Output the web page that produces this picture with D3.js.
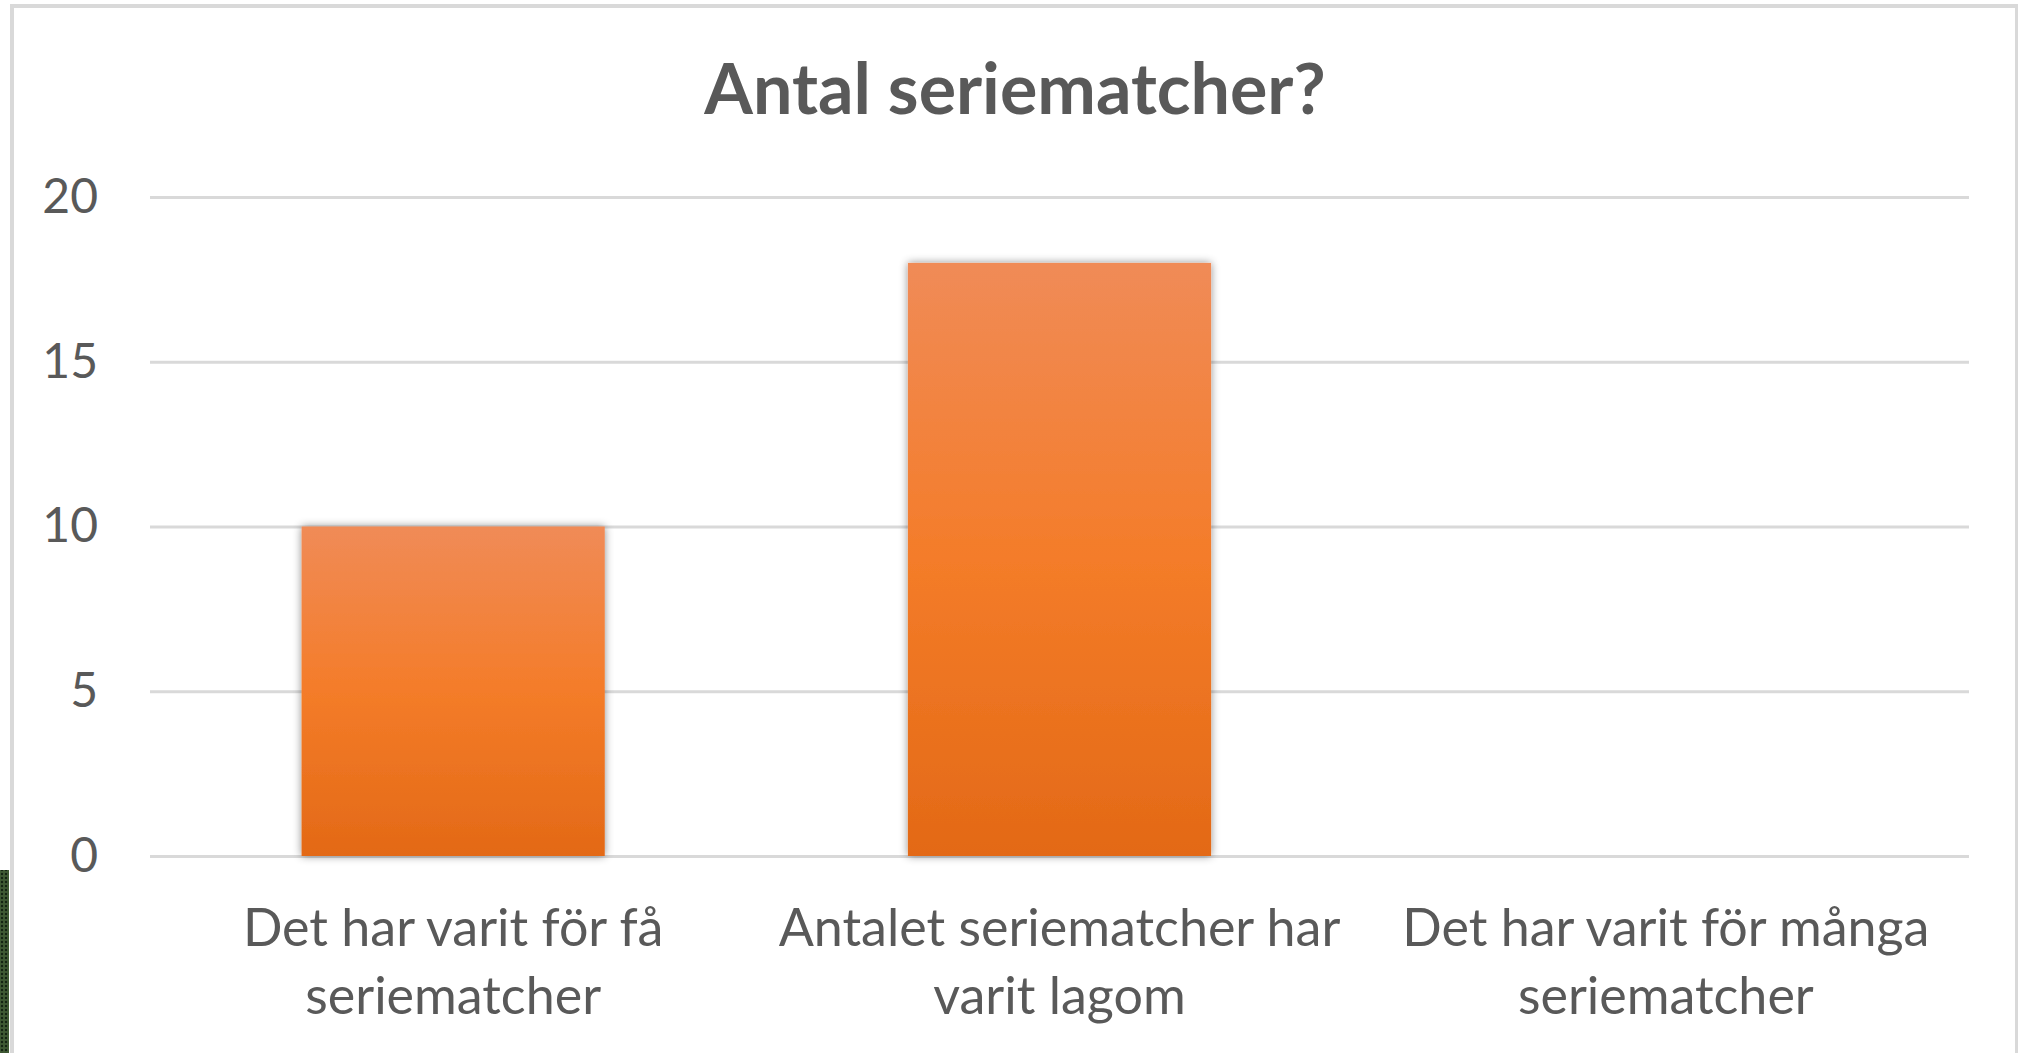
<!DOCTYPE html>
<html>
<head>
<meta charset="utf-8">
<script src="https://cdn.jsdelivr.net/npm/d3@7"></script>
<style>
    body { margin: 0; background: #fff; }
    svg { display: block; }
</style>
</head>
<body>
<div id="container"></div>
<script>
// data
const categories = [
    ['Det har varit för få', 'seriematcher'],
    ['Antalet seriematcher har', 'varit lagom'],
    ['Det har varit för många', 'seriematcher']
];
const values = [10, 18, 0];
const yTicks = [0, 5, 10, 15, 20];
const title = 'Antal seriematcher?';

const width = 2018;
const height = 1053;
const margin = {left: 150, right: 49, top: 197, bottom: 197};
const innerWidth = width - margin.left - margin.right;
const innerHeight = 856 - margin.top;
const textColor = '#595959';
const font = 'Lato, "Open Sans", sans-serif';

const svg = d3.select('#container')
    .append('svg')
    .attr('width', width)
    .attr('height', height);

const defs = svg.append('defs');
// bar gradient
const grad = defs.append('linearGradient')
    .attr('id', 'barGrad')
    .attr('x1', 0).attr('y1', 0).attr('x2', 0).attr('y2', 1);
grad.append('stop').attr('offset', '0%').attr('stop-color', '#f08b57');
grad.append('stop').attr('offset', '50%').attr('stop-color', '#f47c29');
grad.append('stop').attr('offset', '100%').attr('stop-color', '#e36916');
// soft shadow around bars
defs.append('filter')
    .attr('id', 'shadow')
    .attr('x', '-10%').attr('y', '-10%').attr('width', '120%').attr('height', '120%')
    .append('feDropShadow')
    .attr('dx', 0).attr('dy', 0)
    .attr('stdDeviation', 4)
    .attr('flood-color', '#000')
    .attr('flood-opacity', 0.45);
// dotted green strip bottom-left
const pat = defs.append('pattern')
    .attr('id', 'dots')
    .attr('width', 4).attr('height', 4)
    .attr('patternUnits', 'userSpaceOnUse');
pat.append('rect').attr('width', 4).attr('height', 4).attr('fill', '#3f5a34');
pat.append('circle').attr('cx', 2).attr('cy', 2).attr('r', 1.2).attr('fill', '#142313');

svg.append('rect')
    .attr('x', 0).attr('y', 870)
    .attr('width', 9).attr('height', height - 870)
    .attr('fill', 'url(#dots)');

// chart border (left, top, right edges only)
svg.append('path')
    .attr('d', `M12,${height} V6 H${width - 1} V${height}`)
    .attr('fill', 'none')
    .attr('stroke', '#d9d9d9')
    .attr('stroke-width', 4);

// title
svg.append('text')
    .attr('x', 1015)
    .attr('y', 114)
    .attr('text-anchor', 'middle')
    .attr('font-family', font)
    .attr('font-weight', 'bold')
    .attr('font-size', 70)
    .attr('fill', textColor)
    .text(title);

const g = svg.append('g')
    .attr('transform', `translate(${margin.left},${margin.top})`);

// scales
const xScale = d3.scaleBand()
    .domain(d3.range(categories.length))
    .range([0, innerWidth])
    .paddingInner(0.5)
    .paddingOuter(0.25);
const yScale = d3.scaleLinear()
    .domain([0, 20])
    .range([innerHeight, 0]);

// y axis with gridlines
const yAxis = d3.axisLeft(yScale)
    .tickValues(yTicks)
    .tickSize(-innerWidth)
    .tickPadding(52);
const yAxisG = g.append('g').call(yAxis);
yAxisG.select('.domain').remove();
yAxisG.selectAll('.tick line')
    .attr('stroke', '#d9d9d9')
    .attr('stroke-width', 3);
yAxisG.selectAll('.tick text')
    .attr('font-family', font)
    .attr('font-size', 48)
    .attr('fill', textColor);

// bars
g.selectAll('.bar')
    .data(values)
    .enter()
    .append('rect')
    .attr('class', 'bar')
    .attr('x', (d, i) => xScale(i))
    .attr('y', d => yScale(d))
    .attr('width', xScale.bandwidth())
    .attr('height', d => innerHeight - yScale(d))
    .attr('fill', 'url(#barGrad)')
    .attr('filter', 'url(#shadow)');

// category labels (two lines)
const label = g.selectAll('.cat')
    .data(categories)
    .enter()
    .append('text')
    .attr('class', 'cat')
    .attr('text-anchor', 'middle')
    .attr('font-family', font)
    .attr('font-size', 52)
    .attr('fill', textColor)
    .attr('transform', (d, i) => `translate(${xScale(i) + xScale.bandwidth() / 2},${innerHeight + 90})`);
label.selectAll('tspan')
    .data(d => d)
    .enter()
    .append('tspan')
    .attr('x', 0)
    .attr('y', (d, i) => i * 68)
    .text(d => d);
</script>
</body>
</html>
